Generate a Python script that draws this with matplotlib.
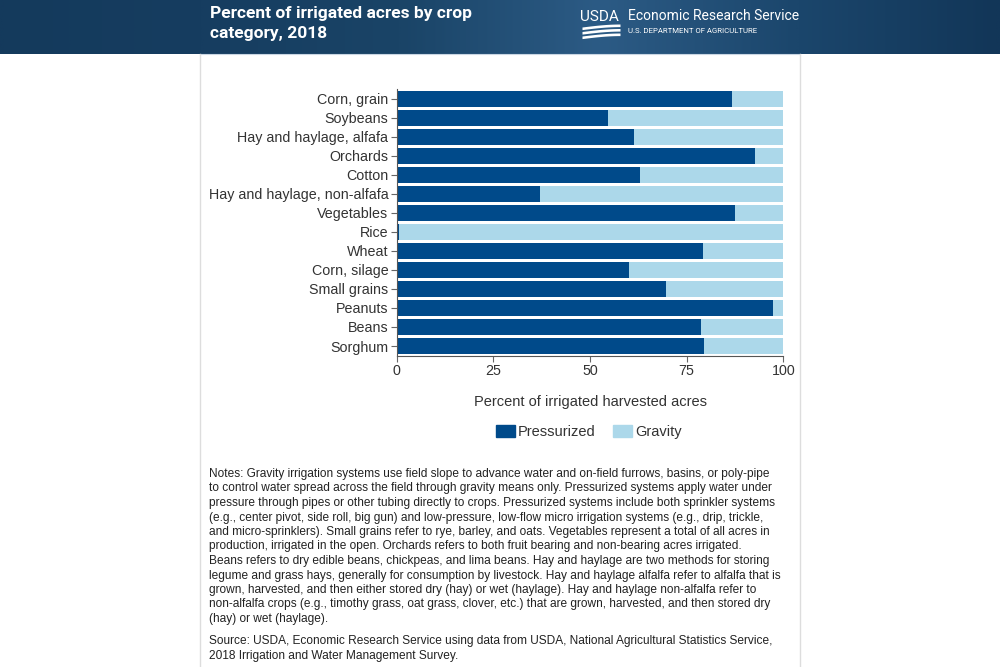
import matplotlib
matplotlib.use("Agg")
import matplotlib.pyplot as plt
from matplotlib.colors import LinearSegmentedColormap
from matplotlib.patches import Patch
import numpy as np

# Datos (de arriba hacia abajo)
cultivos = ["Corn, grain", "Soybeans", "Hay and haylage, alfafa", "Orchards", "Cotton",
            "Hay and haylage, non-alfafa", "Vegetables", "Rice", "Wheat", "Corn, silage",
            "Small grains", "Peanuts", "Beans", "Sorghum"]
presurizado = [86.7, 54.6, 61.4, 92.7, 62.9, 37.1, 87.5, 0.6, 79.1, 60.1, 69.6, 97.3, 78.7, 79.5]
gravedad = [13.3, 45.4, 38.6, 7.3, 37.1, 62.9, 12.5, 99.4, 20.9, 39.9, 30.4, 2.7, 21.3, 20.5]
ticks_x = [0, 25, 50, 75, 100]

titulo = "Percent of irrigated acres by crop\ncategory, 2018"
notas = [
    "Notes: Gravity irrigation systems use field slope to advance water and on-field furrows, basins, or poly-pipe",
    "to control water spread across the field through gravity means only. Pressurized systems apply water under",
    "pressure through pipes or other tubing directly to crops. Pressurized systems include both sprinkler systems",
    "(e.g., center pivot, side roll, big gun) and low-pressure, low-flow micro irrigation systems (e.g., drip, trickle,",
    "and micro-sprinklers). Small grains refer to rye, barley, and oats. Vegetables represent a total of all acres in",
    "production, irrigated in the open. Orchards refers to both fruit bearing and non-bearing acres irrigated.",
    "Beans refers to dry edible beans, chickpeas, and lima beans. Hay and haylage are two methods for storing",
    "legume and grass hays, generally for consumption by livestock. Hay and haylage alfalfa refer to alfalfa that is",
    "grown, harvested, and then either stored dry (hay) or wet (haylage). Hay and haylage non-alfalfa refer to",
    "non-alfalfa crops (e.g., timothy grass, oat grass, clover, etc.) that are grown, harvested, and then stored dry",
    "(hay) or wet (haylage).",
]
fuente = [
    "Source: USDA, Economic Research Service using data from USDA, National Agricultural Statistics Service,",
    "2018 Irrigation and Water Management Survey.",
]

AZUL = "#004a8a"
CELESTE = "#acd8ea"
TEXTO = "#333333"
plt.rcParams['font.family'] = ['Liberation Sans', 'DejaVu Sans']

fig = plt.figure(figsize=(10, 6.67), dpi=100)

# Fondo en coordenadas de pixel
bg = fig.add_axes([0, 0, 1, 1])
bg.set_xlim(0, 1000)
bg.set_ylim(667, 0)
bg.axis("off")

# Banda del encabezado con degradado
cmap = LinearSegmentedColormap.from_list("hdr", ["#143a5c", "#163d60", "#1a4467",
                                                  "#2c5b85", "#1b466c", "#123658"])
grad = np.linspace(0, 1, 400)[None, :]
bg.imshow(grad, cmap=cmap, extent=[0, 1000, 54, 0], aspect="auto", zorder=0)
bg.plot([200, 800], [54, 54], color="#c9d6e3", lw=0.8, zorder=1)

# Panel blanco con borde
bg.plot([200, 200], [54, 667], color="#dddddd", lw=1)
bg.plot([800, 800], [54, 667], color="#dddddd", lw=1)

# Titulo
bg.text(210, 6, titulo, color="white", fontsize=12.5, fontweight="bold",
        family=["Roboto", "DejaVu Sans"], va="top", ha="left", linespacing=1.45)

# Logo USDA
bg.text(580, 17, "USDA", color="white", fontsize=11, va="center", ha="left",
        family=["Roboto", "DejaVu Sans"])
for off in [0, 4.5, 9]:
    xs = np.linspace(582, 620, 30)
    ys = 27 + off - 3 * np.sin(np.linspace(0, np.pi / 2, 30))
    bg.fill_between(xs, ys, ys + 2.6, color="white", lw=0)
bg.text(628, 16, "Economic Research Service", color="white", fontsize=10,
        va="center", ha="left", family=["Roboto", "DejaVu Sans"])
bg.text(628, 31, "U.S. DEPARTMENT OF AGRICULTURE", color="white", fontsize=5.6,
        va="center", ha="left", family=["Roboto", "DejaVu Sans"])

# Grafico de barras
ax = fig.add_axes([0.3967, 0.467, 0.3866, 0.399])
y = np.arange(len(cultivos))
ax.barh(y, presurizado, height=0.88, color=AZUL, label="Pressurized", zorder=2)
ax.barh(y, gravedad, left=presurizado, height=0.88, color=CELESTE, label="Gravity", zorder=2)
ax.set_ylim(len(cultivos) - 0.5, -0.5)
ax.set_xlim(0, 100)
ax.set_yticks(y)
ax.set_yticklabels(cultivos, fontsize=10.3, color=TEXTO)
ax.set_xticks(ticks_x)
ax.set_xticklabels([str(t) for t in ticks_x], fontsize=10.3, color=TEXTO)
ax.set_xticks(np.arange(0, 101, 12.5), minor=True)
ax.grid(True, axis="x", which="both", color="white", alpha=0.35, lw=0.8, zorder=3)
ax.tick_params(axis="both", which="major", length=4, width=0.8, color="#666666", pad=2)
ax.tick_params(axis="x", which="minor", length=0)
for s in ["top", "right"]:
    ax.spines[s].set_visible(False)
for s in ["left", "bottom"]:
    ax.spines[s].set_color("#555555")
    ax.spines[s].set_linewidth(0.8)
ax.set_xlabel("Percent of irrigated harvested acres", fontsize=10.5, color=TEXTO, labelpad=12)

handles = [Patch(color=AZUL, label="Pressurized"), Patch(color=CELESTE, label="Gravity")]
fig.legend(handles=handles, loc="center", bbox_to_anchor=(0.589, 1 - 432 / 667), ncol=2,
           frameon=False, fontsize=10.5, handlelength=1.3, handleheight=0.85,
           handletextpad=0.2, columnspacing=1.2, labelcolor=TEXTO)

# Notas y fuente
for i, linea in enumerate(notas):
    bg.text(209, 474 + i * 14.5, linea, fontsize=8.6, color="#222222", va="center", ha="left")
for i, linea in enumerate(fuente):
    bg.text(209, 641 + i * 14.5, linea, fontsize=8.6, color="#222222", va="center", ha="left")

fig.savefig("out.png", dpi=100)
plt.close(fig)
